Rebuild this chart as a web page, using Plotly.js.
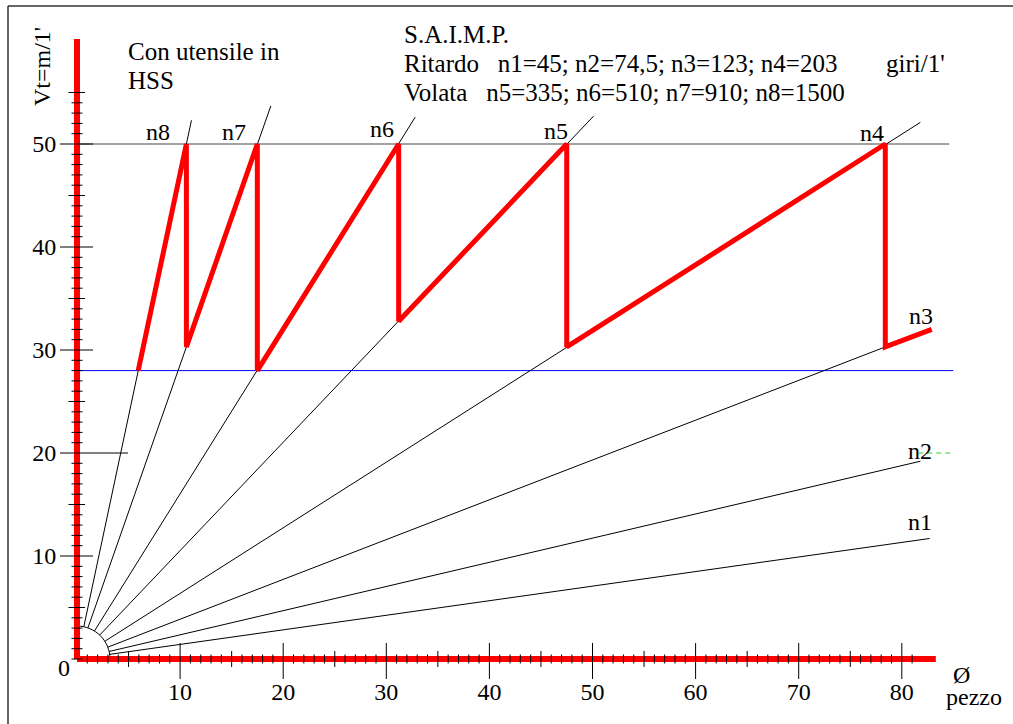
<!DOCTYPE html>
<html>
<head>
<meta charset="utf-8">
<script src="https://cdn.plot.ly/plotly-3.0.1.min.js"></script>
<style>html,body{margin:0;padding:0;background:#fff}#chart{width:1013px;height:724px}</style>
</head>
<body>
<div id="chart"></div>
<script>
// ---------------- DATA ----------------
const speedNames = ['n1', 'n2', 'n3', 'n4', 'n5', 'n6', 'n7', 'n8'];
// fan lines (Vt = pi*D*n/1000), start on the small arc, end where drawn
const fanStartX = [3.17, 3.12, 2.98, 2.70, 2.20, 1.69, 1.06, 0.66];
const fanStartY = [0.45, 0.73, 1.15, 1.72, 2.32, 2.71, 3.02, 3.13];
const fanEndX   = [82.7, 81.8, 78.4, 81.8, 50.1, 32.8, 18.8, 11.1];
const fanEndY   = [11.7, 19.2, 30.3, 52.1, 52.7, 52.6, 53.7, 52.3];
// red working path (sawtooth)
const pathD  = [5.94, 10.61, 10.61, 17.49, 17.49, 31.2, 31.2, 47.5, 47.5, 78.4, 78.4, 82.9];
const pathVt = [28.0, 50.0, 30.3, 50.0, 28.0, 50.0, 32.8, 50.0, 30.3, 50.0, 30.3, 32.0];
// reference lines
const vtMax = 50, vtMaxEnd = 84.6;
const vtMin = 28, vtMinEnd = 85.0;
const vtGreen = 20, greenStart = 81.6, greenEnd = 85.0;
// axes
const xAxisEnd = 83.3, yAxisEnd = 60.2;
const xTickLabels = [10, 20, 30, 40, 50, 60, 70, 80];
const yTickLabels = [10, 20, 30, 40, 50];
const xMinorLast = 81, yMinorLast = 55;
const arcRadius = 3.2;

// ---------------- GEOMETRY HELPERS (pixel -> data) ----------------
const PXX = 10.31, PXY = 10.3, X0 = 77, Y0 = 659, W = 1013, H = 724;
const X = px => (px - X0) / PXX;
const Y = py => (Y0 - py) / PXY;

const traces = [];
function seg(xs, ys, color, width, dash) {
  traces.push({x: xs, y: ys, mode: 'lines', type: 'scatter', hoverinfo: 'skip',
    line: {color: color, width: width, dash: dash || 'solid'}, showlegend: false});
}
// reference lines
seg([0, vtMaxEnd], [vtMax, vtMax], '#444444', 1);
seg([0, vtMinEnd], [vtMin, vtMin], '#0000ff', 1);
seg([greenStart, greenEnd], [vtGreen, vtGreen], '#33cc33', 1, '5px,4px');
// fan lines
for (let i = 0; i < speedNames.length; i++) {
  seg([fanStartX[i], fanEndX[i]], [fanStartY[i], fanEndY[i]], '#000000', 1);
}
// red axes
seg([0, xAxisEnd], [0, 0], '#ff0000', 6);
seg([0, 0], [0, yAxisEnd], '#ff0000', 6);
// ticks
const tx = [], ty = [];
for (let v = 1; v <= xMinorLast; v++) {
  let up, dn;
  if (v % 10 === 0) { up = 16; dn = 20; }
  else if (v % 5 === 0) { up = 8; dn = 8; }
  else { up = 4.5; dn = 4.5; }
  tx.push(v, v, null); ty.push(up / PXY, -dn / PXY, null);
}
for (let v = 0; v <= yMinorLast; v++) {
  let lf, rt;
  if (v === 20) { lf = 17; rt = 51; }
  else if (v % 10 === 0 && v > 0) { lf = 17; rt = 16; }
  else if (v % 5 === 0 && v > 0) { lf = 8.5; rt = 8; }
  else { lf = 5.5; rt = 5.5; }
  tx.push(-lf / PXX, rt / PXX, null); ty.push(v, v, null);
}
seg(tx, ty, '#000000', 1);
// red cutting-speed path
traces.push({x: pathD, y: pathVt, mode: 'lines', type: 'scatter', hoverinfo: 'skip',
  line: {color: '#ff0000', width: 5}, showlegend: false});

// ---------------- ANNOTATIONS ----------------
const F = 'Liberation Serif, Times New Roman, serif';
function ann(text, px, py, xanchor, size, extra) {
  return Object.assign({text: text, x: X(px), y: Y(py), xref: 'x', yref: 'y', showarrow: false,
    xanchor: xanchor || 'center', yanchor: 'middle', font: {family: F, size: size || 24, color: '#000'}}, extra || {});
}
const nbsp = '\u00A0';
const labelPx = [[920, 522], [920, 451], [921, 316], [872, 133], [556, 131], [382, 129], [234, 132], [158, 132]];
const annotations = [
  ann('Con utensile in', 126, 51, 'left', 25),
  ann('HSS', 126, 80, 'left', 25),
  ann('S.A.I.M.P.', 402, 34, 'left', 25),
  ann('Ritardo' + nbsp + nbsp + ' n1=45; n2=74,5; n3=123; n4=203', 402, 63, 'left', 25),
  ann("giri/1'", 884, 63, 'left', 25),
  ann('Volata' + nbsp + nbsp + ' n5=335; n6=510; n7=910; n8=1500', 402, 92, 'left', 25),
  ann("Vt=m/1'", 42, 67, 'center', 24, {textangle: -90}),
  ann('0', 64, 668, 'center'),
  ann('\u00D8', 961, 675, 'center'),
  ann('pezzo', 974, 697, 'center')
];
for (let i = 0; i < speedNames.length; i++) {
  annotations.push(ann(speedNames[i], labelPx[i][0], labelPx[i][1], 'center'));
}

const layout = {
  width: W, height: H,
  margin: {l: 0, r: 0, t: 0, b: 0, pad: 0},
  paper_bgcolor: '#ffffff', plot_bgcolor: '#ffffff',
  showlegend: false, hovermode: false,
  font: {family: F, size: 24, color: '#000'},
  xaxis: {range: [X(0), X(W)], showgrid: false, zeroline: false, showline: false,
    tickmode: 'array', tickvals: xTickLabels, ticktext: xTickLabels.map(String),
    ticks: 'outside', ticklen: 11, tickcolor: 'rgba(0,0,0,0)',
    anchor: 'free', position: (H - Y0) / H, fixedrange: true,
    tickfont: {family: F, size: 24, color: '#000'}},
  yaxis: {range: [Y(H), Y(0)], showgrid: false, zeroline: false, showline: false,
    tickmode: 'array', tickvals: yTickLabels, ticktext: yTickLabels.map(String),
    ticks: 'outside', ticklen: 16, tickcolor: 'rgba(0,0,0,0)',
    anchor: 'free', position: X0 / W, fixedrange: true,
    tickfont: {family: F, size: 24, color: '#000'}},
  annotations: annotations,
  shapes: [
    {type: 'path', xref: 'x', yref: 'y',
     path: 'M 0,' + arcRadius + ' C ' + (arcRadius * 0.5523) + ',' + arcRadius + ' ' + arcRadius + ',' + (arcRadius * 0.5523) + ' ' + arcRadius + ',0',
     line: {color: '#000', width: 1}, layer: 'below'},
    {type: 'line', xref: 'paper', yref: 'paper', x0: 8 / W, x1: 1, y0: (H - 6) / H, y1: (H - 6) / H, line: {color: '#333', width: 1.5}},
    {type: 'line', xref: 'paper', yref: 'paper', x0: 8 / W, x1: 8 / W, y0: 0, y1: (H - 6) / H, line: {color: '#333', width: 1.5}}
  ]
};
Plotly.newPlot('chart', traces, layout, {displayModeBar: false, staticPlot: true});
</script>
</body>
</html>
